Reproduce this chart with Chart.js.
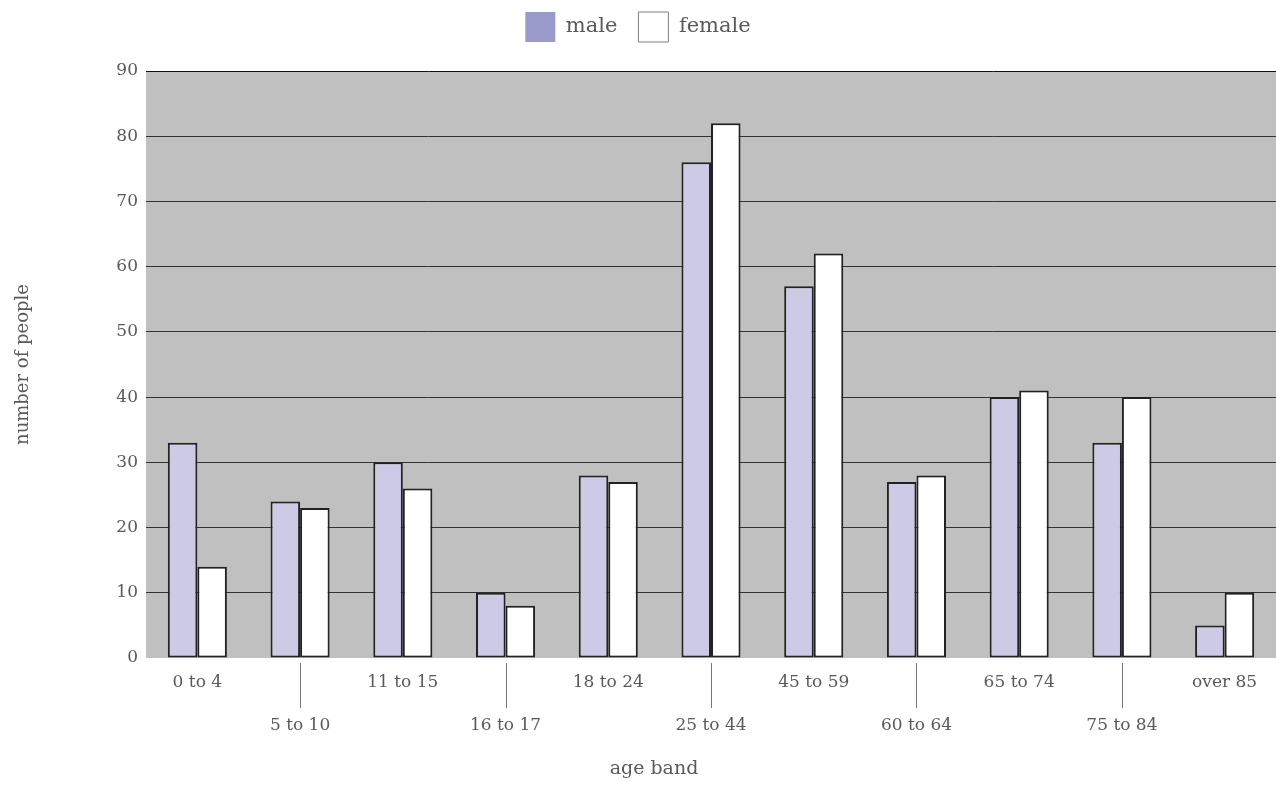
<!DOCTYPE html>
<html>
<head>
<meta charset="utf-8">
<script src="https://cdn.jsdelivr.net/npm/chart.js@4"></script>
<style>
  html, body { margin: 0; padding: 0; background: #fff; }
  #wrap { width: 1276px; height: 788px; }
</style>
</head>
<body>
<div id="wrap"><canvas id="chart"></canvas></div>
<script>
// ── data ─────────────────────────
const ageBands = ['0 to 4', '5 to 10', '11 to 15', '16 to 17', '18 to 24', '25 to 44',
  '45 to 59', '60 to 64', '65 to 74', '75 to 84', 'over 85'];
const maleCounts = [33, 24, 30, 10, 28, 76, 57, 27, 40, 33, 5];
const femaleCounts = [14, 23, 26, 8, 27, 82, 62, 28, 41, 40, 10];
const yTicks = [0, 10, 20, 30, 40, 50, 60, 70, 80, 90];

const FONT = '"DejaVu Serif", Georgia, serif';
const TEXT = '#5a5a5a';

// staggered labels: odd bands sit on a lower row
const labels = ageBands.map((b, i) => i % 2 ? ['', '', b] : b);

// grey plot background + staggered tick lines + x title
const decor = {
  id: 'decor',
  afterInit(chart) {
    // leave a gap between the legend and the plot
    const legend = chart.legend;
    if (!legend) return;
    const fit = legend.fit.bind(legend);
    legend.fit = function () { fit(); this.height += 19; };
  },
  beforeDraw(chart) {
    const { ctx, chartArea: a } = chart;
    ctx.save();
    ctx.fillStyle = '#c0c0c0';
    ctx.fillRect(a.left, a.top, a.right - a.left, a.bottom - a.top);
    ctx.restore();
  },
  afterDraw(chart) {
    const { ctx, chartArea: a, scales } = chart;
    ctx.save();
    ctx.strokeStyle = '#777';
    ctx.lineWidth = 1;
    ageBands.forEach((b, i) => {
      if (i % 2 === 0) return;
      const x = Math.round(scales.x.getPixelForValue(i)) + 0.5;
      ctx.beginPath();
      ctx.moveTo(x, a.bottom + 5);
      ctx.lineTo(x, a.bottom + 50);
      ctx.stroke();
    });
    ctx.fillStyle = TEXT;
    ctx.font = '19px ' + FONT;
    ctx.textAlign = 'center';
    ctx.textBaseline = 'middle';
    ctx.fillText('age band', 654, 769);
    ctx.restore();
  }
};

new Chart(document.getElementById('chart'), {
  type: 'bar',
  data: {
    labels,
    datasets: [
      {
        label: 'male',
        data: maleCounts,
        backgroundColor: '#cdcae6',
        borderColor: '#222',
        borderWidth: 2,
        borderSkipped: false,
      },
      {
        label: 'female',
        data: femaleCounts,
        backgroundColor: '#ffffff',
        borderColor: '#222',
        borderWidth: 2,
        borderSkipped: false,
      }
    ]
  },
  options: {
    responsive: true,
    maintainAspectRatio: false,
    animation: false,
    layout: { padding: { top: -9, right: 0, left: 0, bottom: 0 } },
    datasets: { bar: { categoryPercentage: 0.575, barPercentage: 1 } },
    plugins: {
      tooltip: { enabled: false },
      legend: {
        position: 'top',
        labels: {
          boxWidth: 30,
          boxHeight: 30,
          padding: 21,
          color: TEXT,
          font: { family: FONT, size: 21 },
          generateLabels: () => [
            { text: 'male', fillStyle: '#9999cc', strokeStyle: '#9999cc', lineWidth: 0, fontColor: TEXT, datasetIndex: 0 },
            { text: 'female', fillStyle: '#ffffff', strokeStyle: '#808080', lineWidth: 1, fontColor: TEXT, datasetIndex: 1 },
          ]
        }
      }
    },
    scales: {
      x: {
        grid: { display: false },
        border: { display: false },
        ticks: {
          color: TEXT,
          padding: 6,
          maxRotation: 0,
          autoSkip: false,
          font: { family: FONT, size: 17, lineHeight: 1.27 }
        },
        afterFit: s => { s.height = 130; }
      },
      y: {
        min: 0,
        max: 90,
        afterBuildTicks: s => { s.ticks = yTicks.map(v => ({ value: v })); },
        border: { display: false },
        grid: {
          drawTicks: false,
          color: c => c.tick.value === 0 ? 'rgba(0,0,0,0)' : (c.tick.value === 90 ? '#111' : '#333'),
          lineWidth: 1
        },
        ticks: {
          color: TEXT,
          padding: 8,
          font: { family: FONT, size: 17 }
        },
        title: {
          display: true,
          text: 'number of people',
          color: TEXT,
          padding: { top: 13, bottom: 0 },
          font: { family: FONT, size: 18 }
        },
        afterFit: s => { s.width = 146; }
      }
    }
  },
  plugins: [decor]
});
</script>
</body>
</html>
